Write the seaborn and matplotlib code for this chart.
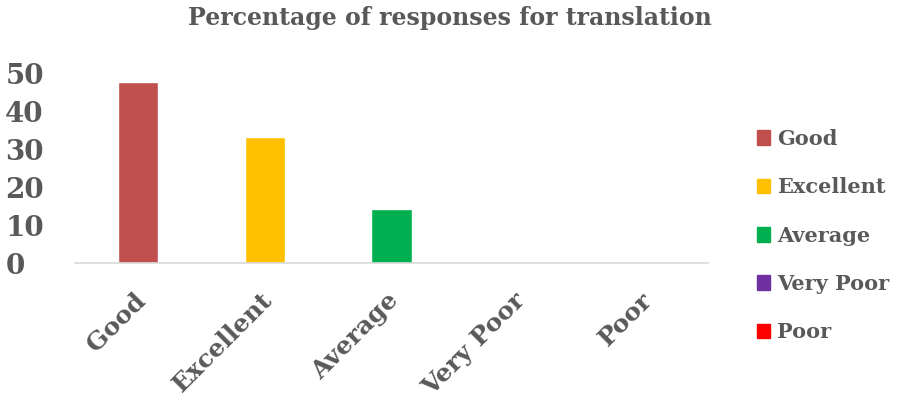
import matplotlib
matplotlib.use('Agg')
import matplotlib.pyplot as plt
import matplotlib.patches as mpatches
import matplotlib.transforms as mtransforms
import seaborn as sns
import pandas as pd

# data
categories = ['Good', 'Excellent', 'Average', 'Very Poor', 'Poor']
percentages = [47.6, 33.3, 14.3, 0, 0]
bar_colors = ['#C0504D', '#FFC000', '#00B050', '#7030A0', '#FF0000']
y_ticks = [0, 10, 20, 30, 40, 50]

df = pd.DataFrame({'rating': categories, 'pct': percentages})

sns.set_style('white')
plt.rcParams['font.family'] = ['DejaVu Serif']
grey = '#595959'

fig = plt.figure(figsize=(9, 4.08), dpi=100)
ax = fig.add_axes([0.083, 0.355, 0.704, 0.466])

sns.barplot(data=df, x='rating', y='pct', hue='rating', palette=bar_colors,
            width=0.32, legend=False, ax=ax, saturation=1)

ax.set_ylim(0, 50)
ax.set_yticks(y_ticks)
ax.set_yticklabels([str(t) for t in y_ticks], fontsize=20, fontweight='bold', color=grey)
ax.set_xticks(range(len(categories)))
ax.set_xticklabels(categories, rotation=45, ha='right', rotation_mode='anchor',
                   fontsize=18, fontweight='bold', color=grey)
ax.tick_params(axis='both', length=0)
ax.tick_params(axis='y', pad=50)
ax.tick_params(axis='x', pad=18)
for s in ['top', 'right', 'left']:
    ax.spines[s].set_visible(False)
ax.spines['bottom'].set_color('#D9D9D9')
ax.spines['bottom'].set_linewidth(1.2)
ax.set_xlabel('')
ax.set_ylabel('')

for t in ax.get_yticklabels():
    t.set_horizontalalignment('left')

# nudge the slanted labels a little to the left
shift = mtransforms.ScaledTranslation(-5 / 100, 0, fig.dpi_scale_trans)
for t in ax.get_xticklabels():
    t.set_transform(t.get_transform() + shift)

fig.text(0.5, 0.955, 'Percentage of responses for translation', ha='center', va='center',
         fontsize=17, fontweight='bold', color=grey)

handles = [mpatches.Patch(color=c, label=l) for c, l in zip(bar_colors, categories)]
fig.legend(handles=handles, loc='upper left', bbox_to_anchor=(0.82, 0.73), frameon=False,
           handlelength=0.62, handleheight=0.7, handletextpad=0.35, labelspacing=1.36,
           prop={'size': 15, 'weight': 'bold'}, labelcolor=grey)

fig.savefig('out.png', dpi=100)
